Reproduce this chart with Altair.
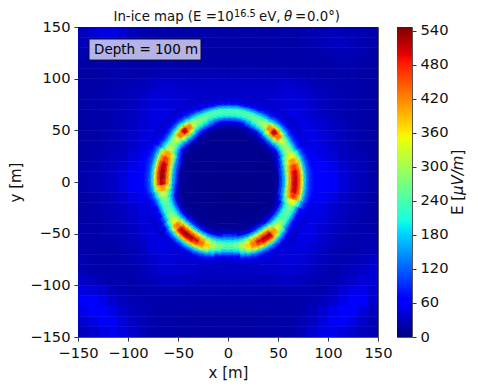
import altair as alt
import pandas as pd

FONT = "DejaVu Sans"
# matplotlib "jet" stops: (fraction of colour range, colour)
jet_offsets = [0, .11, .125, .34, .35, .375, .64, .66, .89, .91, 1]
jet_colors = ["#00007f", "#0000ff", "#0000ff", "#00dbff", "#00e6f7", "#14ffe2",
              "#eeff08", "#ffec00", "#ff1300", "#e80000", "#7f0000"]
VMAX = 547
color_domain = [o * VMAX for o in jet_offsets]
cbar_ticks = [0, 60, 120, 180, 240, 300, 360, 420, 480, 540]
axis_ticks = [-150, -100, -50, 0, 50, 100, 150]

# Background field: 10 m cells, rows from y=145 down to y=-145, columns x=-145..145
bg_rows = [
 [30,40,48,48,40,30,24,22,20,20,20,20,20,20,20,20,20,20,20,20,20,20,22,24,26,28,28,26,24,22],
 [28,36,42,40,32,26,22,20,20,20,18,18,18,18,18,18,18,18,18,20,20,20,22,24,28,32,32,28,24,22],
 [24,26,28,26,24,22,20,20,20,18,18,18,18,18,18,18,18,18,18,18,20,20,20,22,24,26,26,26,24,20],
 [20,20,22,22,22,20,20,20,20,20,20,20,20,20,20,20,20,20,20,20,20,20,20,20,20,22,24,24,22,20],
 [18,18,20,22,24,22,22,24,26,26,26,26,26,26,26,26,26,26,26,26,26,24,22,22,20,22,22,22,20,18],
 [18,18,20,22,24,26,28,32,36,36,34,34,34,34,34,34,34,34,34,34,36,36,32,28,26,24,22,22,20,18],
 [18,20,22,24,26,30,34,40,42,40,38,36,36,36,36,36,36,36,36,38,40,42,40,34,30,26,24,22,20,18],
 [18,20,22,24,26,30,36,44,46,44,40,38,38,38,38,38,38,38,38,40,42,44,44,36,30,26,24,22,20,18],
 [18,20,22,24,28,32,38,46,48,45,40,40,40,40,40,40,40,40,40,40,44,48,46,38,32,28,24,22,20,18],
 [18,20,22,24,28,34,40,46,50,40,30,20,15,12,12,12,12,12,15,20,30,40,50,46,40,34,28,24,20,18],
 [18,20,22,26,30,36,44,50,50,40,25,15,10,10,10,10,10,10,10,15,25,40,50,50,44,36,30,26,22,18],
 [18,20,22,26,30,38,46,52,45,25,12,10,10,8,8,8,8,8,10,10,12,25,45,52,46,38,30,26,22,18],
 [18,20,24,28,32,42,50,55,40,15,10,8,8,8,8,8,8,8,8,8,10,15,40,55,50,42,32,28,24,18],
 [20,22,26,30,38,50,58,58,30,12,10,8,8,8,7,7,7,8,8,8,10,12,30,58,58,50,38,30,26,20],
 [22,24,28,34,44,58,65,60,30,12,10,8,7,7,6,5,6,7,7,8,10,12,30,60,65,58,44,34,28,22],
 [22,24,28,34,44,58,65,60,30,12,10,8,7,6,5,5,5,7,7,8,10,12,30,60,65,58,44,34,28,22],
 [20,22,26,30,36,48,56,56,30,12,10,8,7,6,5,5,6,7,8,8,10,12,30,56,56,48,36,30,26,20],
 [18,20,24,28,32,40,48,52,40,15,10,8,8,7,7,7,7,8,8,8,10,15,40,52,48,40,32,28,24,20],
 [18,20,22,26,30,36,44,50,45,25,12,10,10,8,8,8,8,8,10,10,12,25,45,50,44,36,30,26,22,20],
 [18,20,22,24,28,34,40,48,50,40,25,15,10,10,10,10,10,10,10,15,25,40,50,48,40,34,28,24,22,20],
 [20,20,22,24,26,30,38,46,50,40,30,20,15,12,12,12,12,12,15,20,30,40,50,46,38,30,26,24,24,24],
 [22,20,20,22,24,28,34,44,48,45,40,40,40,40,40,40,40,40,40,40,44,46,46,40,34,28,24,24,26,28],
 [24,22,20,20,22,26,30,38,44,44,40,38,38,38,38,38,38,38,38,40,42,44,42,36,30,26,24,26,30,34],
 [26,24,22,22,22,24,28,34,40,40,38,36,34,34,34,34,34,34,36,38,40,40,38,32,28,24,26,30,36,40],
 [34,30,26,22,22,22,24,28,32,34,32,30,28,28,28,28,28,28,28,30,32,34,30,26,24,24,30,36,42,42],
 [46,44,36,28,24,22,22,24,24,26,24,22,22,22,22,22,22,22,22,22,24,24,24,24,24,30,40,50,52,40],
 [58,60,50,38,30,26,24,22,20,20,20,20,20,20,20,20,20,20,20,20,20,20,22,24,28,36,48,60,58,38],
 [50,60,60,48,36,30,26,22,20,20,20,18,18,18,18,18,18,18,18,20,20,22,24,30,40,52,60,60,46,32],
 [38,48,58,56,44,34,28,24,20,20,18,18,18,18,18,18,18,18,18,20,20,22,26,32,44,56,60,50,36,28],
 [30,36,46,52,46,36,28,22,20,20,18,18,18,18,18,18,18,18,18,20,20,22,28,38,48,52,46,38,30,26],
]

# Ring field: one row per 5 degree sector (counter-clockwise from +x),
# one column per 3 m radial band from r=46 m to r=88 m
ring_rows = [
 [10,30,85,160,325,430,500,510,460,335,165,85,72,60],
 [10,30,85,160,322,425,495,505,455,330,165,85,72,60],
 [10,28,80,150,305,405,470,480,430,315,155,85,70,58],
 [10,26,70,132,270,360,415,420,380,280,140,82,68,54],
 [10,22,55,100,210,295,345,350,310,220,110,72,58,48],
 [10,16,34,72,155,250,305,305,250,145,76,60,50,44],
 [10,15,32,68,150,245,295,295,245,142,74,56,48,42],
 [10,15,33,74,162,262,330,328,258,148,76,54,46,40],
 [10,18,42,98,210,360,450,445,335,185,88,55,45,40],
 [10,20,45,110,230,400,510,505,370,200,90,55,45,40],
 [10,18,42,96,205,350,430,425,320,178,84,55,45,40],
 [10,15,33,74,160,255,320,320,255,145,74,50,44,38],
 [10,14,28,62,138,228,285,285,235,140,72,48,42,38],
 [9,13,25,52,115,200,268,275,228,130,68,46,40,36],
 [8,12,21,44,90,160,235,265,235,135,68,46,38,34],
 [8,11,18,38,70,125,215,255,240,135,65,45,38,34],
 [8,10,16,35,60,110,205,250,242,140,62,44,38,34],
 [8,10,16,35,60,110,205,250,242,140,62,44,38,34],
 [8,10,16,35,60,110,205,250,242,140,62,44,38,34],
 [8,10,16,35,60,110,205,250,242,140,62,44,38,34],
 [8,11,18,38,70,125,215,255,240,135,65,45,38,34],
 [8,12,21,44,90,160,235,265,235,135,68,46,38,34],
 [9,13,25,52,115,200,268,275,228,130,68,46,40,36],
 [10,14,28,62,138,228,285,285,235,140,72,48,42,38],
 [10,15,33,74,160,255,320,320,255,145,74,50,44,38],
 [10,18,42,96,205,350,440,435,325,180,85,55,45,40],
 [10,20,45,110,230,400,510,505,370,200,90,55,45,40],
 [10,18,42,96,205,350,440,435,325,180,85,55,45,40],
 [10,15,33,74,162,262,330,328,258,148,76,54,46,40],
 [10,15,32,68,150,245,295,295,245,142,74,56,48,42],
 [10,18,42,82,175,265,320,322,270,170,90,66,54,46],
 [10,26,70,132,270,360,415,420,380,280,140,82,68,54],
 [10,28,80,150,305,405,470,480,430,315,155,85,70,58],
 [10,30,85,160,325,430,505,515,465,335,165,85,72,60],
 [10,31,88,165,335,445,525,530,475,345,170,85,72,62],
 [10,31,88,165,335,445,525,530,475,345,170,85,72,62],
 [10,30,85,160,325,430,505,515,460,335,165,85,72,60],
 [10,26,70,132,270,360,415,420,380,280,140,85,70,58],
 [10,20,48,92,190,270,325,330,280,190,100,72,58,50],
 [10,14,30,65,140,230,280,280,230,140,75,62,52,44],
 [10,13,25,55,120,205,255,255,210,125,65,54,48,42],
 [10,13,25,55,120,205,258,260,220,130,68,50,44,40],
 [10,13,26,58,125,220,285,295,250,155,80,50,44,38],
 [10,13,27,60,135,245,325,355,320,230,120,62,46,38],
 [10,14,32,68,170,320,410,450,425,325,170,80,50,42],
 [10,15,35,75,190,360,470,525,490,375,190,85,52,42],
 [10,15,36,76,192,365,475,535,495,380,190,85,52,42],
 [10,15,35,75,190,360,470,525,490,375,190,85,52,42],
 [10,15,34,72,182,345,450,500,470,360,182,82,50,42],
 [10,14,32,68,170,320,410,450,425,325,170,80,50,42],
 [10,13,28,62,145,270,345,380,360,275,145,72,48,40],
 [10,13,28,62,135,240,305,315,275,190,105,58,44,36],
 [11,18,34,70,135,225,285,280,215,120,66,46,38,33],
 [12,22,42,85,150,225,268,250,180,88,52,42,36,32],
 [12,22,42,85,150,225,268,250,180,88,52,42,36,32],
 [11,20,38,78,142,225,275,262,198,105,60,44,38,32],
 [10,13,28,62,135,240,305,320,280,195,108,60,44,36],
 [10,13,28,62,145,270,345,380,360,275,145,72,48,40],
 [10,14,32,68,170,320,410,450,425,325,170,80,50,42],
 [10,15,34,72,182,345,450,500,470,360,182,82,50,42],
 [10,15,35,75,190,360,470,525,490,375,190,85,52,42],
 [10,15,35,75,190,360,470,525,490,375,190,85,52,42],
 [10,14,32,68,165,310,395,430,400,300,158,78,50,42],
 [10,13,28,60,135,245,320,345,310,220,115,64,46,38],
 [10,14,28,60,130,225,280,290,240,140,72,52,44,40],
 [10,12,24,52,115,205,258,260,212,122,65,52,46,42],
 [10,12,24,52,115,205,258,260,212,122,65,56,50,44],
 [10,14,28,60,130,225,280,280,228,130,68,60,52,46],
 [10,22,55,100,210,295,345,350,310,220,110,72,58,48],
 [10,28,80,150,305,405,470,480,430,315,155,85,70,58],
 [10,30,85,160,325,430,500,510,460,335,165,85,72,60],
 [10,30,85,160,325,430,505,515,460,335,165,85,72,60],
]

bg_df = pd.DataFrame([
    {"x0": -150 + 10 * c, "x1": -140 + 10 * c, "y0": 140 - 10 * r, "y1": 150 - 10 * r, "v": v}
    for r, row in enumerate(bg_rows) for c, v in enumerate(row)
])
ring_df = pd.DataFrame([
    {"t0": (85 - 5 * s) % 360, "t1": (85 - 5 * s) % 360 + 5,
     "r0": 46 + 3 * b, "r1": 49 + 3 * b, "v": v}
    for s, row in enumerate(ring_rows) for b, v in enumerate(row)
])

cscale = alt.Scale(domain=color_domain, range=jet_colors)
x_scale = alt.Scale(domain=[-150, 150], nice=False)
y_scale = alt.Scale(domain=[-150, 150], nice=False)

def pos_axis(title):
    return alt.Axis(title=title, values=axis_ticks, grid=False, domain=False, tickSize=4,
                    tickColor="#333", labelColor="#111", labelFontSize=14.7, titleFontSize=15,
                    titleFontWeight="normal", titleColor="#111", labelFont=FONT, titleFont=FONT,
                    labelOverlap=False, labelFlush=False, labelPadding=4, titlePadding=6)

bg = alt.Chart(bg_df).mark_rect(strokeWidth=0.6, clip=True).encode(
    x=alt.X("x0:Q", scale=x_scale, axis=pos_axis("x [m]")), x2="x1:Q",
    y=alt.Y("y0:Q", scale=y_scale, axis=pos_axis("y [m]")), y2="y1:Q",
    color=alt.Color("v:Q", scale=cscale, legend=None),
    stroke=alt.Stroke("v:Q", scale=cscale, legend=None),
)
ring = alt.Chart(ring_df).mark_arc(strokeWidth=3, strokeOpacity=0.5).encode(
    x=alt.value(150.5), y=alt.value(153.5),
    theta=alt.Theta("t0:Q", scale=alt.Scale(domain=[0, 360], range=[0, 6.283185])), theta2="t1:Q",
    radius=alt.Radius("r0:Q", scale=alt.Scale(type="linear", domain=[0, 150], range=[0, 150])),
    radius2="r1:Q",
    color=alt.Color("v:Q", scale=cscale, legend=None),
    stroke=alt.Stroke("v:Q", scale=cscale, legend=None),
)
box_df = pd.DataFrame({"x0": [-139], "x1": [-27], "y0": [118], "y1": [138.4]})
box = alt.Chart(box_df).mark_rect(fill="#ffffff", fillOpacity=0.7, stroke="#0a0a30", strokeWidth=1).encode(
    x=alt.X("x0:Q", scale=x_scale), x2="x1:Q", y=alt.Y("y0:Q", scale=y_scale), y2="y1:Q")
box_text = alt.Chart(pd.DataFrame({"x": [-134], "y": [128], "t": ["Depth = 100 m"]})).mark_text(
    align="left", baseline="middle", font=FONT, fontSize=13.5, color="#000").encode(
    x=alt.X("x:Q", scale=x_scale), y=alt.Y("y:Q", scale=y_scale), text="t:N")

def label(text, x, y, size=13.3, style="normal", angle=0, align="left"):
    return alt.Chart(pd.DataFrame({"t": [text]})).mark_text(
        align=align, baseline="alphabetic", font=FONT, fontSize=size, fontStyle=style,
        angle=angle, color="#111").encode(x=alt.value(x), y=alt.value(y), text="t:N")

title_parts = [
    label("In-ice map (E =10", 35.5, -6),
    label("16.5", 156, -10, size=9.8),
    label("eV,", 181, -6),
    label("\u03b8", 206, -6, style="italic"),
    label("=", 217, -6),
    label("0.0\u00b0)", 229, -6),
]
main = alt.layer(bg, ring, box, box_text, *title_parts).properties(width=300, height=310)

stops = [alt.GradientStop(color=c, offset=o) for c, o in zip(jet_colors, jet_offsets)]
bar = alt.Chart(pd.DataFrame({"a": [0], "b": [VMAX]})).mark_rect(
    color=alt.LinearGradient(gradient="linear", stops=stops, x1=0, x2=0, y1=1, y2=0)).encode(
    y=alt.Y("a:Q", scale=alt.Scale(domain=[0, VMAX], nice=False),
            axis=alt.Axis(orient="right", title=None, values=cbar_ticks, grid=False, domain=False,
                          tickSize=4, tickColor="#333", labelColor="#111", labelFontSize=14.7,
                          labelFont=FONT, labelOverlap=False, labelFlush=False, labelPadding=4)),
    y2="b:Q",
)
cbar = alt.layer(
    bar,
    label("E [", 66, 188, size=15, angle=270),
    label("\u03bcV/m", 66, 168, size=15, angle=270, style="italic"),
    label("]", 66, 128.5, size=15, angle=270),
).properties(width=15, height=310)

chart = alt.hconcat(main, cbar, spacing=3).properties(
    padding={"left": 0, "top": 0, "right": 0, "bottom": 0}
).configure_view(stroke="#555", strokeWidth=1).configure_concat(spacing=3)

chart.save("out.html", embed_options={"renderer": "svg", "actions": False})
